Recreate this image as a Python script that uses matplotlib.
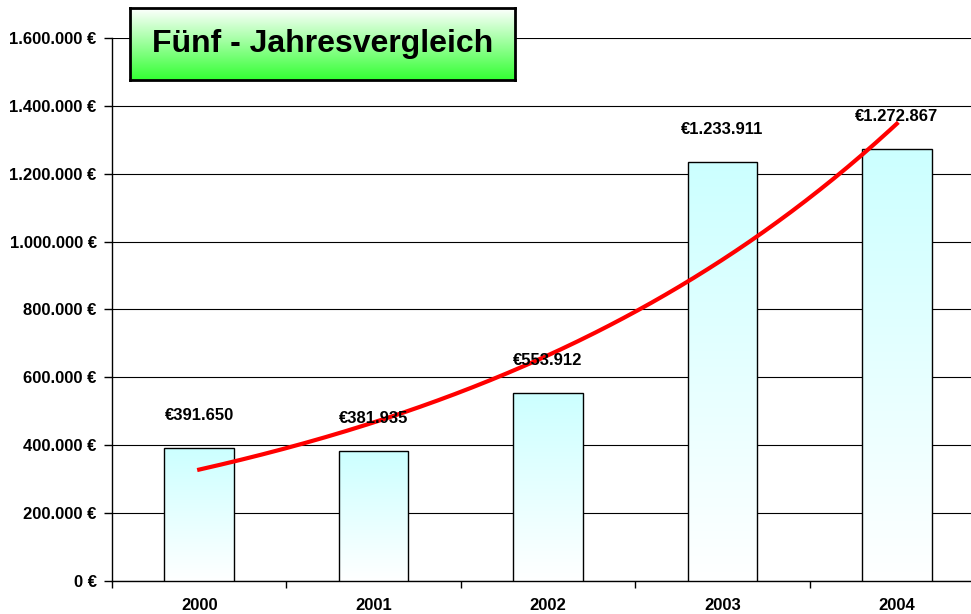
import numpy as np
import matplotlib
matplotlib.use("Agg")
import matplotlib.pyplot as plt
from matplotlib.colors import LinearSegmentedColormap

# Chart data
years = ["2000", "2001", "2002", "2003", "2004"]
revenue = [391650, 381935, 553912, 1233911, 1272867]
value_labels = ["€391.650", "€381.935", "€553.912", "€1.233.911", "€1.272.867"]
y_ticks = [0, 200000, 400000, 600000, 800000, 1000000, 1200000, 1400000, 1600000]
y_tick_labels = ["0 €", "200.000 €", "400.000 €", "600.000 €", "800.000 €",
                 "1.000.000 €", "1.200.000 €", "1.400.000 €", "1.600.000 €"]
title_text = "Fünf - Jahresvergleich"

plt.rcParams['font.family'] = ['Liberation Sans', 'DejaVu Sans']
plt.rcParams['font.weight'] = 'bold'

fig = plt.figure(figsize=(9.71, 6.14), dpi=100)
ax = fig.add_axes([112 / 971, 33 / 614, 872 / 971, 543 / 614])

x = np.arange(len(years))
bars = ax.bar(x, revenue, width=0.4, facecolor='none', edgecolor='black', linewidth=1.0, zorder=4)

# vertical gradient fill: cyan at top, white at bottom
bar_cmap = LinearSegmentedColormap.from_list('bar', ['#ffffff', '#ccffff'])
grad = np.linspace(0, 1, 256).reshape(-1, 1)
for b in bars:
    x0, w, h = b.get_x(), b.get_width(), b.get_height()
    ax.imshow(grad, cmap=bar_cmap, origin='lower', aspect='auto',
              extent=(x0, x0 + w, 0, h), zorder=3)

# value labels above bars
for xi, v, lab in zip(x, revenue, value_labels):
    ax.annotate(lab, (xi, v), xytext=(0, 23.5), textcoords='offset points',
                ha='center', va='center', fontsize=12, fontweight='bold', zorder=6)

# exponential trendline (like Excel)
coef = np.polyfit(x, np.log(revenue), 1)
xs = np.linspace(x[0], x[-1], 200)
ax.plot(xs, np.exp(np.polyval(coef, xs)), color='#ff0000', linewidth=3, zorder=5)

ax.set_xlim(-0.5, len(years) - 0.5)
ax.set_ylim(0, 1600000)
ax.set_yticks(y_ticks)
ax.set_yticklabels(y_tick_labels, fontsize=12, fontweight='bold')
ax.set_xticks(x)
ax.set_xticklabels(years, fontsize=12, fontweight='bold')
ax.set_xticks(np.arange(-0.5, len(years), 1), minor=True)
ax.tick_params(axis='x', which='major', length=0, pad=12)
ax.tick_params(axis='x', which='minor', length=5, width=1, direction='out')
ax.tick_params(axis='y', length=6, width=1, pad=5, direction='out')
ax.yaxis.grid(True, color='black', linewidth=0.8)
ax.set_axisbelow(True)
for s in ['top', 'right']:
    ax.spines[s].set_visible(False)
ax.spines['left'].set_linewidth(1.0)
ax.spines['bottom'].set_linewidth(1.0)

# title box with green gradient
tax = fig.add_axes([130 / 971, (614 - 80) / 614, 385 / 971, 72 / 614])
title_cmap = LinearSegmentedColormap.from_list('title', ['#33ff33', '#ffffff'])
tax.imshow(grad, cmap=title_cmap, origin='lower', aspect='auto', extent=(0, 1, 0, 1))
tax.set_xlim(0, 1)
tax.set_ylim(0, 1)
tax.set_xticks([])
tax.set_yticks([])
for s in tax.spines.values():
    s.set_linewidth(2)
    s.set_color('black')
tax.text(0.5, 0.5, title_text, ha='center', va='center', fontsize=23, fontweight='bold')

fig.savefig("out.png", dpi=100)
